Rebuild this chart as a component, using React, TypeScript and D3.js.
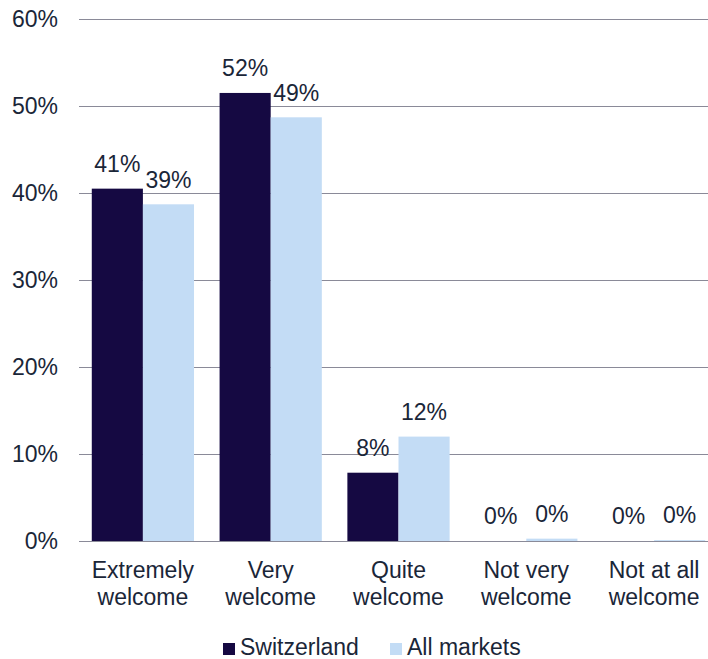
import React from "react";
import * as d3 from "d3";

const categories: string[][] = [
  ["Extremely", "welcome"],
  ["Very", "welcome"],
  ["Quite", "welcome"],
  ["Not very", "welcome"],
  ["Not at all", "welcome"],
];
const seriesNames = ["Switzerland", "All markets"];
const switzerland = [40.5, 51.5, 7.85, 0, 0];
const allMarkets = [38.7, 48.7, 12.0, 0.27, 0.1];
const switzerlandLabels = ["41%", "52%", "8%", "0%", "0%"];
const allMarketsLabels = ["39%", "49%", "12%", "0%", "0%"];
const yTicks = [0, 10, 20, 30, 40, 50, 60];

const COLORS = ["#150942", "#c3dcf5"];
const TEXT = "#1a2638";
const GRID = "#8a8a98";
const FONT = "'Liberation Sans', Arial, sans-serif";

export default function App() {
  const W = 708;
  const H = 659;
  const x = d3.scaleBand<number>().domain(d3.range(categories.length)).range([79, 718]).paddingInner(0.2).paddingOuter(0.1);
  const inner = d3.scaleBand<number>().domain([0, 1]).range([0, x.bandwidth()]);
  const y = d3.scaleLinear().domain([0, 60]).range([541, 19]);
  const series = [switzerland, allMarkets];
  const labels = [switzerlandLabels, allMarketsLabels];

  // compute the category step-based scale where groups occupy 80% of the step
  const step = x.step();

  return (
    <svg width={W} height={H} style={{ position: "absolute", left: 0, top: 0, fontFamily: FONT }}>
      <rect width={W} height={H} fill="#ffffff" />
      {yTicks.map((t) => (
        <g key={t}>
          <line x1={79} x2={W} y1={Math.round(y(t)) + 0.5} y2={Math.round(y(t)) + 0.5} stroke={GRID} strokeWidth={1} />
          <text x={58} y={y(t)} dy="0.35em" textAnchor="end" fontSize={23} fill={TEXT}>
            {t}%
          </text>
        </g>
      ))}
      {categories.map((c, i) => {
        const cx = 79 + step * (i + 0.5);
        const groupW = step * 0.8;
        const bw = groupW / 2;
        return (
          <g key={i}>
            {series.map((s, k) => {
              const bx = cx - groupW / 2 + k * bw;
              const top = y(s[i]);
              return (
                <g key={k}>
                  <rect x={bx} y={top} width={bw} height={y(0) - top} fill={COLORS[k]} />
                  <text x={bx + bw / 2} y={top - 16.7} textAnchor="middle" fontSize={23} fill={TEXT}>
                    {labels[k][i]}
                  </text>
                </g>
              );
            })}
            <text x={cx} y={578} textAnchor="middle" fontSize={23} fill={TEXT}>
              {c[0]}
            </text>
            <text x={cx} y={605} textAnchor="middle" fontSize={23} fill={TEXT}>
              {c[1]}
            </text>
          </g>
        );
      })}
      <g>
        <rect x={223} y={643} width={12} height={12} fill={COLORS[0]} />
        <text x={240} y={655} fontSize={23} fill={TEXT}>{seriesNames[0]}</text>
        <rect x={390} y={643} width={12} height={12} fill={COLORS[1]} />
        <text x={407} y={655} fontSize={23} fill={TEXT}>{seriesNames[1]}</text>
      </g>
    </svg>
  );
}
